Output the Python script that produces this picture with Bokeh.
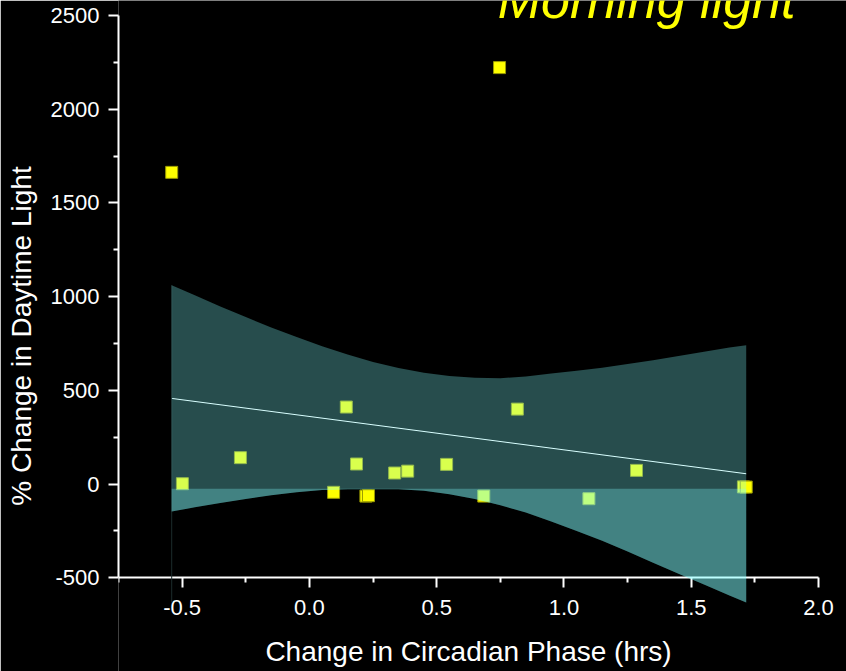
from bokeh.plotting import figure
from bokeh.models import Label, FixedTicker, LinearAxis, Range1d
from bokeh.embed import file_html
from bokeh.resources import INLINE

# ---- data ----
phase_x = [-0.541, 0.747, -0.499, -0.271, 0.145, 0.095, 0.185, 0.222, 0.232,
           0.335, 0.386, 0.539, 0.685, 0.817, 1.098, 1.285, 1.705, 1.716]
light_y = [1663, 2222, 2, 141, 411, -44, 107, -64, -62,
           59, 69, 105, -64, 400, -78, 73, -15, -16]

fit_x = [-0.541, 1.716]
fit_y = [457, 55]

band_x = [-0.541, -0.45, -0.35, -0.25, -0.15, -0.05, 0.05, 0.15, 0.25, 0.35,
          0.45, 0.55, 0.65, 0.75, 0.85, 0.95, 1.05, 1.15, 1.25, 1.35,
          1.45, 1.55, 1.65, 1.716]
band_upper = [1061, 1007, 948, 891, 836, 784, 735, 691, 651, 619,
              594, 576, 567, 565, 574, 590, 604, 621, 640, 661,
              683, 706, 729, 741]
band_lower = [-147, -124, -101, -80, -60, -44, -31, -27, -27, -28,
              -36, -54, -80, -113, -152, -200, -250, -303, -360, -420,
              -478, -536, -594, -632]
band_base = -25

x_ticks = [-0.5, 0.0, 0.5, 1.0, 1.5, 2.0]
x_tick_labels = ["-0.5", "0.0", "0.5", "1.0", "1.5", "2.0"]
x_minor = [-0.75, -0.25, 0.25, 0.75, 1.25, 1.75]
y_ticks = [-500, 0, 500, 1000, 1500, 2000, 2500]
y_tick_labels = ["-500", "0", "500", "1000", "1500", "2000", "2500"]
y_minor = [-250, 250, 750, 1250, 1750, 2250]

title_text = "Morning light"
x_label = "Change in Circadian Phase (hrs)"
y_label = "% Change in Daytime Light"

FONT = "Liberation Sans"

p = figure(width=846, height=671,
           x_range=Range1d(-0.75, 2.11), y_range=Range1d(-1000, 2580),
           output_backend="svg", toolbar_location=None,
           x_axis_location=None, y_axis_location=None,
           min_border_left=118, min_border_right=0,
           min_border_top=0, min_border_bottom=0,
           background_fill_color="black", border_fill_color="black",
           outline_line_color=None)
p.grid.grid_line_color = None


def style_axis(ax):
    ax.axis_line_color = "white"
    ax.axis_line_width = 2
    ax.major_tick_line_color = "white"
    ax.major_tick_line_width = 2
    ax.minor_tick_line_color = "white"
    ax.minor_tick_line_width = 2
    ax.major_tick_out = 10
    ax.major_tick_in = 0
    ax.minor_tick_out = 5
    ax.minor_tick_in = 0
    ax.major_label_text_color = "white"
    ax.major_label_text_font = FONT
    ax.major_label_text_font_size = "22px"
    ax.axis_label_text_color = "white"
    ax.axis_label_text_font = FONT
    ax.axis_label_text_font_size = "28px"
    ax.axis_label_text_font_style = "normal"


xaxis = LinearAxis(fixed_location=-500, bounds=(-0.75, 2.0),
                   ticker=FixedTicker(ticks=x_ticks, minor_ticks=x_minor),
                   major_label_overrides=dict(zip(x_ticks, x_tick_labels)),
                   axis_label=x_label)
style_axis(xaxis)
xaxis.major_label_standoff = 12
xaxis.axis_label_standoff = 18
xaxis.level = "underlay"
p.add_layout(xaxis, "below")

yaxis = LinearAxis(bounds=(-500, 2500),
                   ticker=FixedTicker(ticks=y_ticks, minor_ticks=y_minor),
                   major_label_overrides=dict(zip(y_ticks, y_tick_labels)),
                   axis_label=y_label)
style_axis(yaxis)
yaxis.major_label_standoff = 9
yaxis.axis_label_standoff = 11
p.add_layout(yaxis, "left")

# points
p.scatter(phase_x, light_y, marker="square", size=12,
          fill_color="#ffff00", line_color="#9a9a00", line_width=1)

# fit line
p.line(fit_x, fit_y, line_color="white", line_width=1)

# faint drop line at band's left edge
p.segment(x0=[band_x[0]], y0=[band_upper[0]], x1=[band_x[0]], y1=[min(band_lower)],
          line_color="#1c2c2c", line_width=1)

# confidence band (two translucent layers)
p.varea(x=band_x, y1=band_lower, y2=band_upper, fill_color="#80ffff", fill_alpha=0.3)
p.varea(x=band_x, y1=band_lower, y2=[band_base] * len(band_x),
        fill_color="#80ffff", fill_alpha=0.3)

p.add_layout(Label(x=1.9096, y=2585, text=title_text, text_align="right",
                   text_baseline="alphabetic", text_font=FONT,
                   text_font_size="52px", text_font_style="italic",
                   text_color="#ffff00"))

open("out.html", "w").write(file_html(p, INLINE))
